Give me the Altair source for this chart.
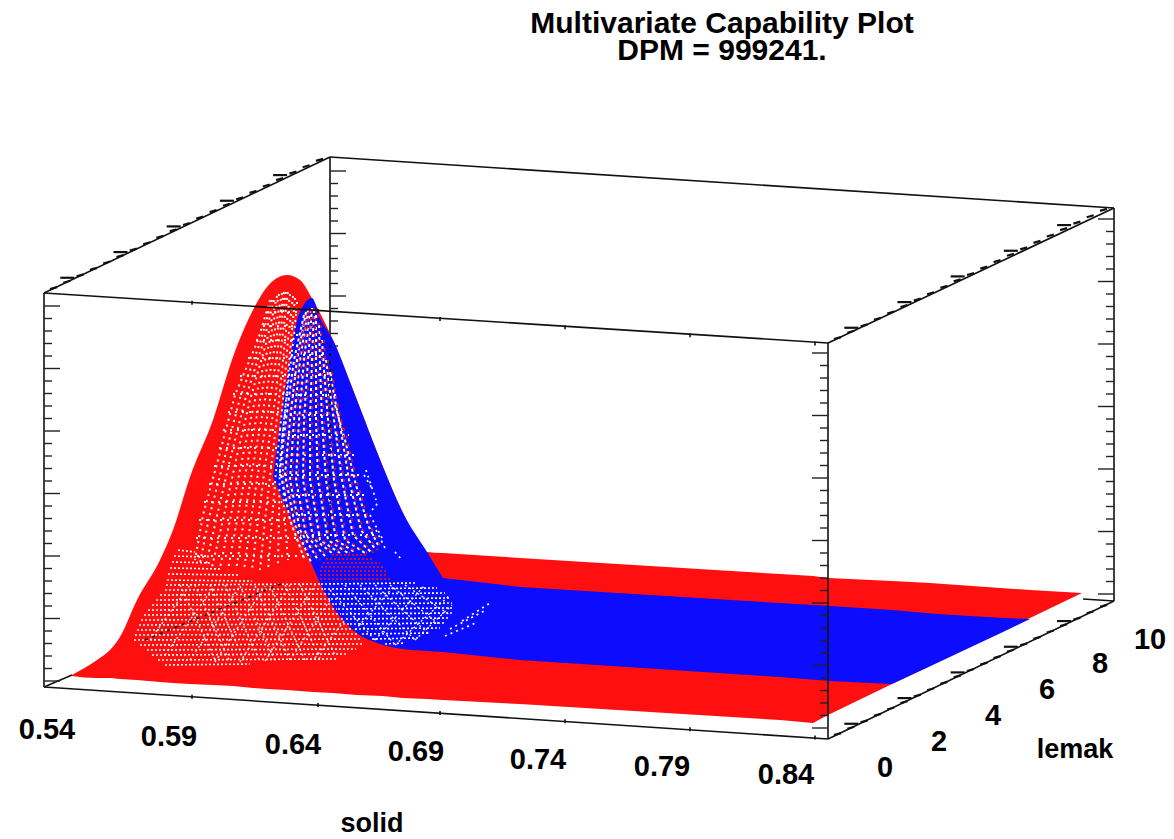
import altair as alt
import pandas as pd

alt.data_transformers.disable_max_rows()

# Picture-plane frame of the projected 3D box (page pixels)
BOX_BACK = [[(330,157),(1114,208)], [(330,157),(330,345)], [(1114,208),(1114,601)],
            [(44,293),(330,157)], [(828,343),(1114,208)], [(828,739),(1114,601)],
            [(1083,599),(1114,601)]]
BOX_FRONT = [[(44,293),(828,343)], [(44,293),(44,687)], [(828,343),(828,739)],
             [(44,687),(828,739)], [(44,687),(72,675)]]

# Surface outlines: x, upper edge, lower edge (hump, then flat floor)
RED_X = [72,97,110,120,137,160,173,190,213,233,253,267,287,300,313,333,357,383,403,427,443]
RED_T = [675,660,650,637,600,560,530,477,420,357,310,287,275,280,300,340,400,467,513,552,553]
RED_B = [676,678,678,679,680,682,683,684,685,686,688,689,690,691,692,693,695,696,698,699,700]
RED_FX = [443,520,780,813,828,892,930,1030,1082]
RED_FT = [553,558,574,576,578,581,583,590,593]
RED_FB = [700,704,720,723,715,684,666,618,593]
BLUE_X = [273,290,298,312,320,333,353,377,383,403,427,443]
BLUE_T = [477,360,317,298,318,340,390,452,467,513,552,578]
BLUE_B = [477,517,535,565,583,607,630,643,645,649,651,652]
BLUE_FX = [443,520,780,830,892,937,1003,1030]
BLUE_FT = [578,587,603,606,610,614,618,619]
BLUE_FB = [652,660,677,681,684,663,632,619]

# Mesh lines of the hump, red part
MESH_RED = [
 [(270,300),(258,340),(235,395),(218,460),(203,515),(195,560)],
 [(272,300),(261,340),(240,398),(224,460),(209,518),(200,563)],
 [(274,300),(264,340),(245,400),(230,460),(216,520),(206,565)],
 [(277,296),(267,340),(250,400),(236,460),(223,520),(212,567)],
 [(279,294),(270,340),(255,400),(242,460),(230,520),(220,568)],
 [(282,293),(273,340),(260,400),(248,460),(237,520),(228,570)],
 [(284,292),(276,340),(265,400),(254,460),(244,520),(236,570)],
 [(286,292),(279,340),(270,400),(260,460),(251,520),(244,570)],
 [(288,292),(282,340),(275,400),(266,460),(258,520),(252,570)],
 [(290,294),(285,340),(279,400),(272,460),(265,520),(260,570)],
 [(293,296),(288,340),(283,400),(277,460),(272,520),(268,570)],
 [(295,298),(291,340),(286,400),(280,460),(279,515),(278,565)],
 [(297,302),(294,335),(288,385),(282,440),(284,510),(288,560)],
]
ROWS_MESH = [
 (267,312,298,312),(263,326,296,326),(256,340,294,340),(248,358,291,358),(240,376,289,376),
 (233,394,286,394),(228,412,284,412),(223,430,282,430),(219,448,280,448),(214,466,278,466),
 (209,484,277,484),(204,502,282,502),(199,520,290,520),(196,538,298,538),(197,556,306,556),
]
# Mesh lines of the hump, blue part
MESH_BLUE = [
 [(304,315),(294,360),(286,420),(280,470),(290,520),(304,558)],
 [(306,312),(297,360),(290,420),(285,475),(295,525),(311,562)],
 [(308,310),(300,360),(294,420),(290,480),(300,530),(318,560)],
 [(310,310),(304,360),(299,420),(296,480),(306,535),(325,556)],
 [(312,308),(308,360),(304,420),(303,480),(313,538),(332,553)],
 [(314,310),(312,360),(310,420),(310,480),(320,540),(340,553)],
 [(316,315),(316,360),(316,420),(318,480),(328,540),(348,553)],
 [(319,325),(320,365),(322,420),(326,480),(336,540),(356,553)],
 [(322,340),(324,370),(328,420),(334,480),(345,540),(365,553)],
 [(326,360),(329,385),(334,420),(342,480),(353,535),(372,553)],
 [(330,372),(334,395),(340,425),(349,480),(361,530),(376,550)],
 [(335,405),(345,440),(356,485),(368,525),(378,545)],
]
MESH_BLUE_SPARSE = [
 [(364,475),(373,490)], [(372,510),(378,503)], [(366,470),(376,500)],
 [(376,530),(386,550)], [(370,515),(382,538)], [(395,552),(402,560)],
]
ROWS_BLUE_HUMP = [
 (296,335,322,335),(291,355,326,355),(288,375,332,375),(286,395,338,395),(284,415,343,415),
 (282,435,349,435),(280,455,354,455),(279,475,359,475),(284,495,364,495),(292,515,370,515),
 (300,535,376,535),
]
# Fine rows in the near part of the hump: x0, y0, x1, y1
ROWS_RED = [
 (178,550,195,552),(174,556,205,557),(172,562,212,563),(170,568,222,569),(168,574,238,575),
 (167,580,252,581),(166,585,320,584),(165,590,323,589),(160,595,327,594),(156,600,330,599),
 (152,605,334,604),(148,610,337,609),(144,615,341,614),(141,620,345,619),(139,625,349,624),
 (137,630,353,629),(135,635,357,634),(134,640,361,639),(140,645,364,644),(147,650,356,649),
 (152,655,346,654),(158,660,336,659),(165,665,250,664),
]
DIAG_RED = [
 (180,585,215,660),(195,585,230,662),(210,585,245,662),(225,585,260,662),(240,586,275,661),
 (255,586,290,660),(270,586,305,660),(285,585,320,658),(300,585,335,655),
 (150,640,190,585),(165,655,215,585),(190,660,240,586),(215,662,265,586),(240,662,290,585),
 (265,661,315,585),(290,660,330,600),(315,658,345,620),
]
ROWS_BLUE = [
 (321,584,415,583),(324,589,437,588),(328,594,445,593),(331,599,450,598),(335,604,452,603),
 (338,609,452,608),(342,614,452,613),(346,619,450,618),(350,624,445,623),(355,629,440,628),
 (362,634,430,633),(372,639,418,638),(385,644,405,643),
]
DIAG_BLUE = [
 (330,590,375,640),(345,585,395,645),(360,585,415,640),(375,585,430,635),(390,585,440,625),(405,585,450,615),
 (355,630,395,585),(375,640,425,585),(395,645,450,595),(415,640,452,605),
]
ROWS_WING = [(445,636,478,622),(450,629,486,610),(462,621,490,603)]
ROWS_HATCH = [(332,555,368,555),(326,559,374,559),(323,563,380,563),(321,567,384,567),
              (320,571,387,571),(320,575,388,575),(320,579,390,579)]
# Hidden box edges glimpsed through the mesh
BLACK_DOTS = [[(145,640),(283,583)], [(330,345),(330,545)]]

X_LABELS = ["0.54","0.59","0.64","0.69","0.74","0.79","0.84"]
X_LX = [47,169,293,416,538,662,786]
X_LY = [730,737,745,752,760,767,775]
Y_LABELS = ["0","2","4","6","8","10"]
Y_LX = [885,939,993,1047,1100,1150]
Y_LY = [768,742,716,690,664,640]
NOTCH_X = [192,318,440,565,690,815]
TITLE = ["Multivariate Capability Plot","DPM = 999241."]
TITLE_X = [722,722]
TITLE_Y = [24,51]
AXIS_NAMES = ["solid","lemak"]
AXIS_X = [372,1075]
AXIS_Y = [824,750]

XS = alt.Scale(domain=[8,1166], nice=False, zero=False)
YS = alt.Scale(domain=[838,8], nice=False, zero=False)
X = alt.X("x:Q", scale=XS, axis=None)
Y = alt.Y("y:Q", scale=YS, axis=None)

def lines_df(ls):
    return pd.DataFrame([{"x":p[0],"y":p[1],"g":i,"o":j}
                         for i,l in enumerate(ls) for j,p in enumerate(l)])

def rows(r):
    return [[(a,b),(c,d)] for a,b,c,d in r]

def lines(ls, color, width=1.6, **kw):
    return alt.Chart(lines_df(ls)).mark_line(color=color, strokeWidth=width, **kw).encode(
        x=X, y=Y, detail="g:N", order="o:Q")

def area(xs, ts, bs, color, interp="linear"):
    df = pd.DataFrame({"x":xs,"y":ts,"y2":bs})
    return alt.Chart(df).mark_area(color=color, opacity=1, interpolate=interp).encode(x=X, y=Y, y2="y2:Q")

# Tick marks along the box edges
def vticks(x, start, n, direction):
    out = []
    for k in range(n):
        y = start + 12.5*k
        out.append([(x,y),(x+direction*(16 if k%5==0 else 8),y)])
    return out

def depth_ticks(x0, y0):
    out = []
    for k in range(21):
        dx = 10 + 13.3*k
        x = x0+dx; y = y0-dx*138/286
        if k % 4 == 1:
            out.append([(x-7,y-4),(x+7,y-4)])
        out.append([(x-4,y+1),(x+3,y-1)])
    return out

tick_back = vticks(330,171,15,1) + vticks(1114,219,31,-1)
tick_depth = depth_ticks(44,293) + depth_ticks(828,343) + depth_ticks(828,739)
tick_front = vticks(44,306,31,1) + vticks(828,353,31,-1)
notches = []
for nx in NOTCH_X:
    for base in (293,687):
        ny = base + (nx-44)*0.0655
        notches.append([(nx,ny-2),(nx,ny+2)])

layers = [
    lines(BOX_BACK, "#111111"),
    lines(tick_back, "#222222", 1.4),
    lines(tick_depth, "#111111", 2.2),
    area(RED_X, RED_T, RED_B, "#ff0f0f", "monotone"),
    area(RED_FX, RED_FT, RED_FB, "#ff0f0f"),
    area(BLUE_X, BLUE_T, BLUE_B, "#0c0cff", "monotone"),
    area(BLUE_FX, BLUE_FT, BLUE_FB, "#0c0cff"),
    lines(MESH_RED, "white", 1.9, strokeDash=[2,4]),
    lines(rows(ROWS_MESH), "white", 1.9, strokeDash=[2,5]),
    lines(MESH_BLUE, "white", 2.0, strokeDash=[3,3]),
    lines(rows(ROWS_BLUE_HUMP), "white", 1.8, strokeDash=[2,4]),
    lines(MESH_BLUE, "#ff0f0f", 1.5, strokeDash=[3,5], xOffset=2),
    lines(MESH_BLUE_SPARSE, "white", 1.7, strokeDash=[2,4]),
    lines(rows(ROWS_RED), "white", 1.6, strokeDash=[2,2]),
    lines(rows(DIAG_RED), "white", 1.3, strokeDash=[2,3]),
    lines(rows(ROWS_BLUE), "white", 1.6, strokeDash=[2,2]),
    lines(rows(DIAG_BLUE), "white", 1.3, strokeDash=[2,3]),
    lines(rows(ROWS_WING), "white", 1.7, strokeDash=[2,4]),
    lines(rows(ROWS_HATCH), "#ff0f0f", 1.5, strokeDash=[2,2]),
    lines(BLACK_DOTS, "#111111", 1.7, strokeDash=[3,5]),
    lines(BOX_FRONT, "#111111"),
    lines(tick_front, "#222222", 1.4),
    lines(notches, "#111111", 1.6),
]

font = dict(font="Liberation Sans", fontWeight="bold", color="black", align="center", baseline="middle")
def texts(labels, xs, ys, size):
    df = pd.DataFrame({"t":labels,"x":xs,"y":ys})
    return alt.Chart(df).mark_text(fontSize=size, **font).encode(x=X, y=Y, text="t:N")

layers += [
    texts(X_LABELS, X_LX, X_LY, 29),
    texts(Y_LABELS, Y_LX, Y_LY, 29),
    texts(TITLE, TITLE_X, TITLE_Y, 30),
    texts(AXIS_NAMES, AXIS_X, AXIS_Y, 27),
]

chart = alt.layer(*layers).properties(
    width=1158, height=830, padding=0, autosize=alt.AutoSizeParams(type="none"), background="white"
).configure_view(stroke=None)

chart.save("out.html", embed_options={"renderer": "svg", "actions": False})
